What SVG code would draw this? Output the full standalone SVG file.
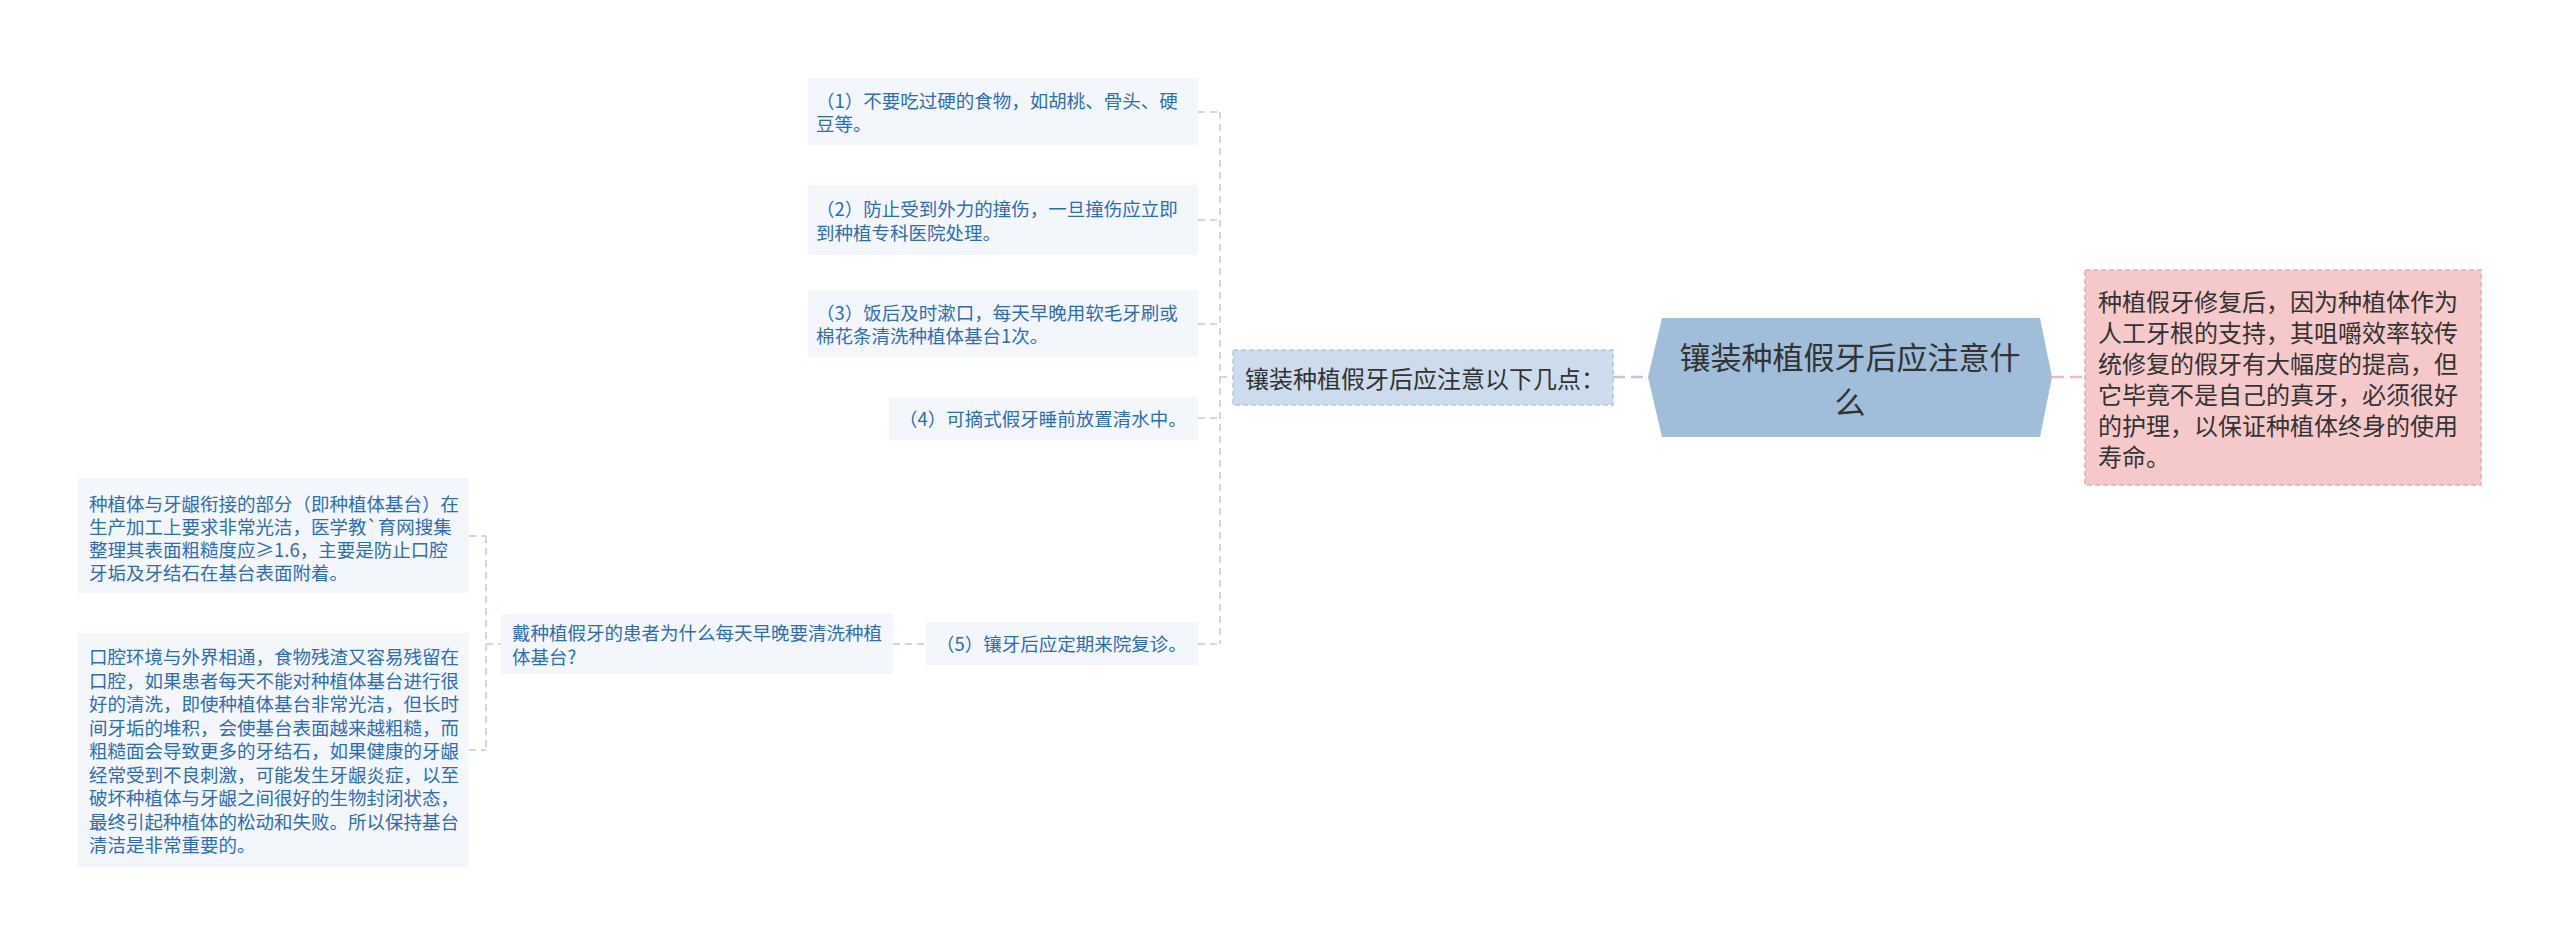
<svg xmlns="http://www.w3.org/2000/svg" width="2560" height="946" viewBox="0 0 2560 946">
<style>
text{font-family:"Noto Sans CJK SC","Microsoft YaHei",sans-serif;dominant-baseline:central}
.leaf rect{fill:#f3f7fc}
.leaf text{fill:#2f6db3;font-size:18.5px}
.gray{stroke:#c6c9cd;stroke-width:1.5;stroke-dasharray:7 5;fill:none}
</style>
<rect width="2560" height="946" fill="#ffffff"/>
<g id="connectors">
<path class="gray" d="M1220 112V644M1198 112H1220M1198 220H1220M1198 324H1220M1198 418H1220M1198 644H1220M1220 377H1233"/>
<path class="gray" d="M893 644H926"/>
<path class="gray" d="M486 536V750M469 536H486M469 750H486M486 644H501"/>
<path d="M1613 377H1648" stroke="#b6cbe0" stroke-width="2.5" stroke-dasharray="12 6" fill="none"/>
<path d="M2052 377H2085" stroke="#efbcbc" stroke-width="2.5" stroke-dasharray="12 6" fill="none"/>
</g>
<g id="root">
<polygon points="1648,377 1662,318 2040,318 2052,377 2040,437 1662,437" fill="#a0bdd9"/>
<text x="1850" y="355" font-size="31" fill="#333333" text-anchor="middle">镶装种植假牙后应注意什</text>
<text x="1850" y="400.5" font-size="31" fill="#333333" text-anchor="middle">么</text>
</g>
<g id="mid">
<rect x="1233" y="350" width="380" height="55" fill="#ccdcec" stroke="#b3c8de" stroke-width="1.5" stroke-dasharray="5 3"/>
<text x="1245" y="377" font-size="24" fill="#333333">镶装种植假牙后应注意以下几点：</text>
</g>
<g id="desc">
<rect x="2085" y="270" width="396" height="215" fill="#f5c9ca" stroke="#e7aaab" stroke-width="1.5" stroke-dasharray="5 3"/>
<g font-size="24" fill="#333333">
<text x="2098" y="300">种植假牙修复后，因为种植体作为</text>
<text x="2098" y="331">人工牙根的支持，其咀嚼效率较传</text>
<text x="2098" y="362">统修复的假牙有大幅度的提高，但</text>
<text x="2098" y="393">它毕竟不是自己的真牙，必须很好</text>
<text x="2098" y="424">的护理，以保证种植体终身的使用</text>
<text x="2098" y="455">寿命。</text>
</g>
</g>
<g id="n1" class="leaf">
<rect x="808" y="78" width="390" height="67"/>
<text x="816" y="100">（1）不要吃过硬的食物，如胡桃、骨头、硬</text>
<text x="816" y="123">豆等。</text>
</g>
<g id="n2" class="leaf">
<rect x="808" y="185" width="390" height="70"/>
<text x="816" y="208">（2）防止受到外力的撞伤，一旦撞伤应立即</text>
<text x="816" y="232">到种植专科医院处理。</text>
</g>
<g id="n3" class="leaf">
<rect x="808" y="290" width="390" height="67"/>
<text x="816" y="312">（3）饭后及时漱口，每天早晚用软毛牙刷或</text>
<text x="816" y="335">棉花条清洗种植体基台1次。</text>
</g>
<g id="n4" class="leaf">
<rect x="889" y="397" width="309" height="43"/>
<text x="899" y="418">（4）可摘式假牙睡前放置清水中。</text>
</g>
<g id="n5" class="leaf">
<rect x="926" y="622" width="272" height="43"/>
<text x="936" y="643">（5）镶牙后应定期来院复诊。</text>
</g>
<g id="q" class="leaf">
<rect x="501" y="614" width="392" height="60"/>
<text x="512" y="632">戴种植假牙的患者为什么每天早晚要清洗种植</text>
<text x="512" y="656">体基台?</text>
</g>
<g id="a1" class="leaf">
<rect x="78" y="478" width="391" height="115"/>
<text x="89" y="503">种植体与牙龈衔接的部分（即种植体基台）在</text>
<text x="89" y="526">生产加工上要求非常光洁，医学教`育网搜集</text>
<text x="89" y="549">整理其表面粗糙度应≥1.6，主要是防止口腔</text>
<text x="89" y="572">牙垢及牙结石在基台表面附着。</text>
</g>
<g id="a2" class="leaf">
<rect x="78" y="633" width="391" height="234"/>
<text x="89" y="656">口腔环境与外界相通，食物残渣又容易残留在</text>
<text x="89" y="679.5">口腔，如果患者每天不能对种植体基台进行很</text>
<text x="89" y="703">好的清洗，即使种植体基台非常光洁，但长时</text>
<text x="89" y="726.5">间牙垢的堆积，会使基台表面越来越粗糙，而</text>
<text x="89" y="750">粗糙面会导致更多的牙结石，如果健康的牙龈</text>
<text x="89" y="773.5">经常受到不良刺激，可能发生牙龈炎症，以至</text>
<text x="89" y="797">破坏种植体与牙龈之间很好的生物封闭状态，</text>
<text x="89" y="820.5">最终引起种植体的松动和失败。所以保持基台</text>
<text x="89" y="844">清洁是非常重要的。</text>
</g>
</svg>
